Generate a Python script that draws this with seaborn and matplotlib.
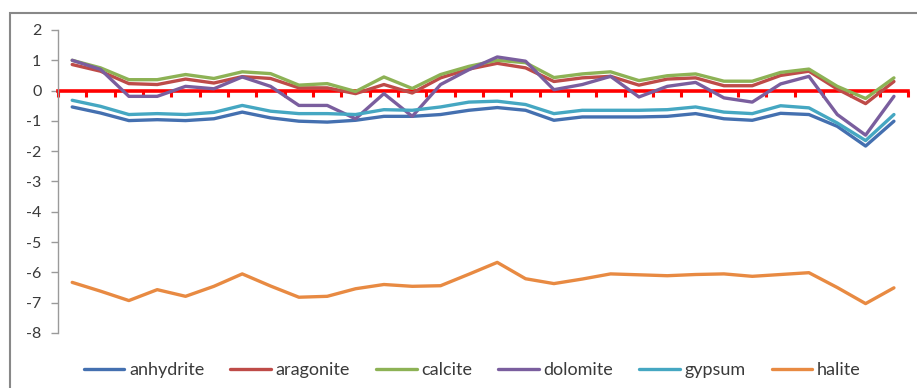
import numpy as np
import pandas as pd
import matplotlib
matplotlib.use("Agg")
import matplotlib.pyplot as plt
from matplotlib.patches import Rectangle
import seaborn as sns

# --- data (30 samples) ---
samples = list(range(1, 31))
anhydrite = [-0.54, -0.74, -0.99, -0.96, -0.99, -0.93, -0.71, -0.90, -1.01, -1.04,
             -0.98, -0.85, -0.85, -0.79, -0.65, -0.56, -0.65, -0.98, -0.87, -0.87,
             -0.87, -0.85, -0.76, -0.93, -0.98, -0.75, -0.79, -1.18, -1.83, -1.01]
aragonite = [0.86, 0.64, 0.23, 0.20, 0.38, 0.25, 0.46, 0.40, 0.09, 0.09,
             -0.10, 0.20, -0.08, 0.42, 0.71, 0.90, 0.75, 0.30, 0.42, 0.47,
             0.18, 0.38, 0.42, 0.16, 0.16, 0.50, 0.64, 0.05, -0.43, 0.30]
calcite = [1.00, 0.75, 0.36, 0.36, 0.53, 0.40, 0.62, 0.56, 0.18, 0.23,
           -0.03, 0.45, 0.07, 0.53, 0.80, 1.00, 0.92, 0.43, 0.55, 0.62,
           0.33, 0.49, 0.55, 0.31, 0.31, 0.60, 0.71, 0.14, -0.26, 0.42]
dolomite = [1.00, 0.70, -0.19, -0.19, 0.14, 0.06, 0.45, 0.14, -0.49, -0.49,
            -0.93, -0.10, -0.85, 0.20, 0.69, 1.11, 0.97, 0.03, 0.20, 0.47,
            -0.21, 0.14, 0.27, -0.24, -0.38, 0.22, 0.47, -0.79, -1.47, -0.19]
gypsum = [-0.32, -0.52, -0.79, -0.76, -0.79, -0.72, -0.49, -0.68, -0.76, -0.76,
          -0.79, -0.63, -0.65, -0.54, -0.38, -0.35, -0.46, -0.76, -0.65, -0.65,
          -0.65, -0.63, -0.54, -0.71, -0.76, -0.50, -0.57, -1.07, -1.65, -0.79]
halite = [-6.33, -6.62, -6.93, -6.57, -6.79, -6.46, -6.05, -6.45, -6.82, -6.79,
          -6.54, -6.40, -6.46, -6.44, -6.06, -5.67, -6.21, -6.37, -6.22, -6.05,
          -6.08, -6.11, -6.07, -6.05, -6.13, -6.07, -6.01, -6.50, -7.03, -6.51]

minerals = ["anhydrite", "aragonite", "calcite", "dolomite", "gypsum", "halite"]
series = [anhydrite, aragonite, calcite, dolomite, gypsum, halite]
colors = ["#4470B0", "#BE4B48", "#8DB255", "#7A5E9E", "#45A7C2", "#E88A42"]
yticks = [2, 1, 0, -1, -2, -3, -4, -5, -6, -7, -8]

df = pd.concat([pd.DataFrame({"sample": samples, "SI": s, "mineral": m})
                for m, s in zip(minerals, series)], ignore_index=True)

sns.set_style("white")
plt.rcParams["font.family"] = ["Lato", "DejaVu Sans"]

fig = plt.figure(figsize=(9.17, 3.88), dpi=100)
ax = fig.add_axes([0.0633, 0.1418, 0.927, 0.7809])

sns.lineplot(data=df, x="sample", y="SI", hue="mineral", hue_order=minerals,
             palette=dict(zip(minerals, colors)), linewidth=2.4, ax=ax,
             legend=False, zorder=3)

ax.set_xlim(0.5, 30.5)
ax.set_ylim(-8, 2)
ax.set_yticks(yticks)
ax.set_yticklabels([str(t) for t in yticks], fontsize=11.5, color="#3a3a3a")
ax.set_xticks(np.arange(0.5, 31, 1))
ax.set_xticklabels([])
ax.set_xlabel("")
ax.set_ylabel("")

# red horizontal axis through zero
for side in ["top", "right"]:
    ax.spines[side].set_visible(False)
ax.spines["bottom"].set_position(("data", 0))
ax.spines["bottom"].set_color("#FF0000")
ax.spines["bottom"].set_linewidth(2.6)
ax.spines["bottom"].set_zorder(2)
ax.spines["left"].set_color("#9A9A9A")
ax.spines["left"].set_linewidth(1.0)
ax.tick_params(axis="x", colors="#FF0000", length=4, width=2.2, direction="out", bottom=True)
ax.tick_params(axis="y", colors="#9A9A9A", length=5, width=1.0, left=True,
               labelcolor="#3a3a3a", pad=7)

handles = [plt.Line2D([], [], color=c, lw=2.4) for c in colors]
fig.legend(handles, minerals, loc="center", bbox_to_anchor=(0.515, 0.046), ncol=6,
           frameon=False, fontsize=13, handlelength=2.25, handletextpad=0.25,
           columnspacing=1.45, labelcolor="#3a3a3a")

# chart border
fig.patches.append(Rectangle((10 / 917, -0.05), 1.0, 1 - 12.5 / 388 + 0.05,
                             transform=fig.transFigure, fill=False,
                             edgecolor="#888888", linewidth=1.5))

fig.savefig("out.png", dpi=100)
